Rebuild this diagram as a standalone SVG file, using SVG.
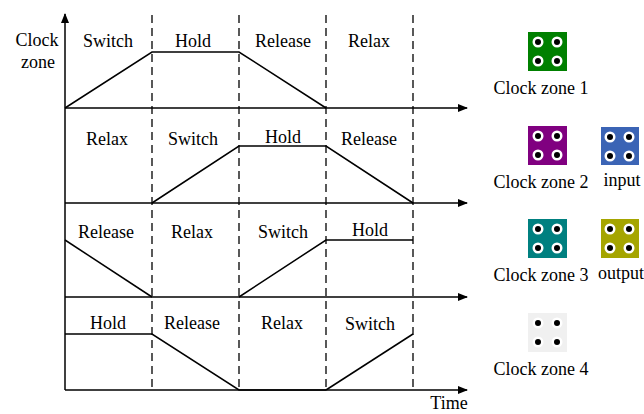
<svg xmlns="http://www.w3.org/2000/svg" width="644" height="414" viewBox="0 0 644 414">
<defs>
<style>
text{font-family:"Liberation Serif","Times New Roman",serif;font-size:18px;fill:#000}
.m{text-anchor:middle}
.ax{stroke:#000;stroke-width:1.5;fill:none}
.wave{stroke:#000;stroke-width:1.5;fill:none}
.dash{stroke:#000;stroke-width:1.3;stroke-dasharray:8,5;fill:none}
.ring{fill:#fff}
.dot{fill:#000}
</style>
<marker id="arr" markerWidth="10" markerHeight="8" refX="9" refY="4" orient="auto" markerUnits="userSpaceOnUse">
<path d="M0,0 L10,4 L0,8 Z" fill="#000"/>
</marker>
<g id="dots">
<circle class="ring" cx="10" cy="10" r="5.5"/><circle class="dot" cx="10" cy="10" r="3"/>
<circle class="ring" cx="29" cy="10" r="5.5"/><circle class="dot" cx="29" cy="10" r="3"/>
<circle class="ring" cx="10" cy="29" r="5.5"/><circle class="dot" cx="10" cy="29" r="3"/>
<circle class="ring" cx="29" cy="29" r="5.5"/><circle class="dot" cx="29" cy="29" r="3"/>
</g>
</defs>
<rect width="644" height="414" fill="#fff"/>
<g id="connectors">
<line class="ax" x1="65" y1="390" x2="65" y2="14" marker-end="url(#arr)"/>
<line class="ax" x1="65" y1="108" x2="467" y2="108" marker-end="url(#arr)"/>
<line class="ax" x1="65" y1="203" x2="467" y2="203" marker-end="url(#arr)"/>
<line class="ax" x1="65" y1="297" x2="467" y2="297" marker-end="url(#arr)"/>
<line class="ax" x1="65" y1="390" x2="467" y2="390" marker-end="url(#arr)"/>
<line class="dash" x1="152" y1="15" x2="152" y2="390"/>
<line class="dash" x1="239" y1="15" x2="239" y2="390"/>
<line class="dash" x1="326" y1="15" x2="326" y2="390"/>
<line class="dash" x1="413" y1="15" x2="413" y2="390"/>
<polyline class="wave" points="65,108 152,52 239,52 326,108"/>
<polyline class="wave" points="152,203 239,146 326,146 413,203"/>
<polyline class="wave" points="65,240 152,297"/>
<polyline class="wave" points="239,297 326,240 413,240"/>
<polyline class="wave" points="65,334 152,334 239,390 326,390"/>
<polyline class="wave" points="326,390 413,334"/>
</g>
<g id="axis-labels">
<text x="37" y="46" class="m">Clock</text>
<text x="38" y="68" class="m">zone</text>
<text x="449" y="409" class="m">Time</text>
</g>
<g id="row1">
<text x="108" y="47" class="m">Switch</text>
<text x="193" y="47" class="m">Hold</text>
<text x="283" y="47" class="m">Release</text>
<text x="369" y="47" class="m">Relax</text>
</g>
<g id="row2">
<text x="107" y="145" class="m">Relax</text>
<text x="193" y="145" class="m">Switch</text>
<text x="283" y="143" class="m">Hold</text>
<text x="369" y="145" class="m">Release</text>
</g>
<g id="row3">
<text x="106" y="238" class="m">Release</text>
<text x="192" y="238" class="m">Relax</text>
<text x="283" y="238" class="m">Switch</text>
<text x="370" y="236" class="m">Hold</text>
</g>
<g id="row4">
<text x="108" y="329" class="m">Hold</text>
<text x="192" y="329" class="m">Release</text>
<text x="282" y="329" class="m">Relax</text>
<text x="370" y="330" class="m">Switch</text>
</g>
<g id="zone1">
<rect x="528" y="32" width="39" height="39" fill="#008000"/>
<use href="#dots" x="528" y="32"/>
<text x="541" y="94" class="m">Clock zone 1</text>
</g>
<g id="zone2">
<rect x="528" y="126" width="39" height="39" fill="#800080"/>
<use href="#dots" x="528" y="126"/>
<text x="541" y="188" class="m">Clock zone 2</text>
</g>
<g id="input">
<rect x="601" y="127" width="38" height="38" fill="#3b64b5"/>
<use href="#dots" x="600" y="127"/>
<text x="622" y="186" class="m">input</text>
</g>
<g id="zone3">
<rect x="528" y="219" width="39" height="39" fill="#008080"/>
<use href="#dots" x="528" y="219"/>
<text x="541" y="281" class="m">Clock zone 3</text>
</g>
<g id="output">
<rect x="601" y="219" width="38" height="39" fill="#a5a500"/>
<use href="#dots" x="600" y="219"/>
<text x="621" y="279" class="m">output</text>
</g>
<g id="zone4">
<rect x="528" y="313" width="39" height="39" fill="#f0f0f0"/>
<use href="#dots" x="528" y="313"/>
<text x="541" y="375" class="m">Clock zone 4</text>
</g>
</svg>
